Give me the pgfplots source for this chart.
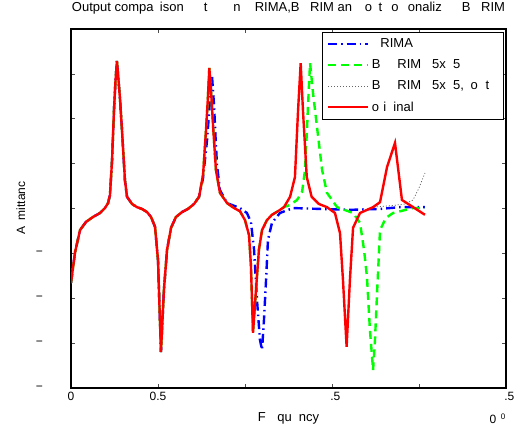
\documentclass[border=0pt]{standalone}
\usepackage{fontspec}
\setmainfont{Liberation Sans}
\usepackage{pgfplots}
\pgfplotsset{compat=1.18}
\newcommand\gap[1]{\phantom{#1}\hspace{2pt}}
\newcommand\twelve{\fontsize{12pt}{14pt}\selectfont}
\newcommand\thirteen{\fontsize{13pt}{15pt}\selectfont}

\begin{document}
\twelve
\begin{tikzpicture}[x=1pt,y=1pt]
\useasboundingbox (0,0) rectangle (517,427);
\begin{axis}[
    at={(71pt,39pt)}, anchor=south west,
    scale only axis, width=435pt, height=359pt,
    xmin=0, xmax=2.5, ymin=-4, ymax=4,
    xtick={0,0.5,1,1.5,2,2.5},
    xticklabels={0,0.5,,\phantom{1}.5,,\phantom{2}.5},
    ytick={-4,-3,-2,-1,0,1,2,3,4},
    yticklabels={−\kern24pt,−\kern24pt,−\kern24pt,−\kern24pt,,,,,},
    tick align=inside, major tick length=4pt,
    tick style={line width=0.6pt, black!70},
    axis line style={line width=1.2pt},
    tick label style={font=\twelve},
    title={Output compa\gap{r}ison \gap{be}t\gap{wee}n \gap{P}RIMA,B\gap{S}RIM an\gap{d} o\gap{r}t\gap{h}o\gap{g}onaliz\gap{ed} B\gap{S}RIM},
    title style={at={(axis description cs:0.5,1.0334)}, anchor=base, inner sep=0pt, font=\thirteen},
    xlabel={F\phantom{re}qu\phantom{e}ncy},
    xlabel style={at={(axis description cs:0.5,-0.092)}, anchor=base, inner sep=0pt, font=\thirteen},
    ylabel={A\phantom{d}mittanc\phantom{e}},
    ylabel style={at={(axis description cs:-0.1057,0.51)}, anchor=base, inner sep=0pt, font=\twelve},
    legend style={at={(0.9954,0.9916)}, anchor=north east, draw=black, line width=0.8pt,
        font=\thirteen, inner xsep=4.5pt, inner ysep=4pt,
        row sep=5pt, nodes={inner sep=2.5pt}},
    legend cell align=left,
    legend image code/.code={\draw[#1] (0pt,0pt) -- (40pt,0pt);},
]
% PRIMA
\addplot[blue, line width=2.4pt, dash pattern=on 9pt off 4pt on 1.5pt off 4pt] table {
x y
0 -1.66
0.023 -0.98
0.052 -0.48
0.086 -0.30
0.126 -0.19
0.167 -0.10
0.195 0.01
0.213 0.12
0.224 0.30
0.236 1.08
0.247 2.19
0.256 2.86
0.264 3.29
0.273 2.86
0.282 2.42
0.293 1.75
0.310 0.63
0.322 0.26
0.351 0.10
0.379 0.03
0.408 -0.01
0.437 -0.08
0.460 -0.19
0.483 -0.41
0.500 -1.15
0.517 -3.20
0.534 -1.82
0.552 -0.92
0.575 -0.43
0.603 -0.19
0.638 -0.08
0.672 -0.01
0.707 0.10
0.736 0.26
0.759 0.68
0.782 1.53
0.799 2.42
0.810 2.97
0.822 2.31
0.830 1.64
0.839 0.97
0.856 0.41
0.897 0.12
0.971 0.01
1.011 -0.10
1.034 -0.30
1.052 -0.92
1.069 -2.04
1.086 -2.93
1.098 -3.15
1.109 -2.48
1.121 -1.59
1.132 -0.70
1.155 -0.32
1.201 -0.10
1.276 0.01
1.431 -0.01
1.603 -0.03
1.776 -0.01
1.891 0.03
2.034 0.03
};
\addlegendentry{\thirteen\phantom{P}RIMA}
% BSRIM 15x15
\addplot[color={rgb,1:red,0;green,1;blue,0}, line width=2.4pt, dash pattern=on 8pt off 5pt] table {
x y
0 -1.66
0.023 -0.98
0.052 -0.48
0.086 -0.30
0.126 -0.19
0.167 -0.10
0.195 0.01
0.213 0.12
0.224 0.30
0.236 1.08
0.247 2.19
0.256 2.86
0.264 3.29
0.273 2.86
0.282 2.42
0.293 1.75
0.310 0.63
0.322 0.26
0.351 0.10
0.379 0.03
0.408 -0.01
0.437 -0.08
0.460 -0.19
0.483 -0.41
0.500 -1.15
0.517 -3.20
0.534 -1.82
0.552 -0.92
0.575 -0.43
0.603 -0.19
0.638 -0.08
0.672 -0.01
0.707 0.10
0.736 0.26
0.759 0.75
0.776 1.75
0.787 2.48
0.795 3.13
0.807 2.48
0.818 1.75
0.833 0.86
0.856 0.35
0.897 0.12
0.937 0.01
0.971 -0.06
1.000 -0.26
1.023 -0.59
1.034 -1.26
1.046 -2.77
1.063 -1.82
1.080 -0.92
1.098 -0.48
1.126 -0.26
1.155 -0.14
1.190 -0.06
1.224 0.03
1.259 0.08
1.299 0.19
1.328 0.37
1.345 0.86
1.356 1.75
1.365 2.53
1.374 3.24
1.391 2.57
1.414 1.81
1.443 0.86
1.471 0.35
1.529 0.03
1.621 -0.10
1.661 -0.32
1.684 -0.92
1.701 -1.53
1.718 -2.71
1.736 -3.60
1.747 -2.93
1.759 -1.88
1.776 -0.48
1.810 -0.21
1.851 -0.10
1.966 0.01
2.034 0.01
};
\addlegendentry{\thirteen B\hspace{17pt}RIM \phantom{1}5x\phantom{1}5}
% BSRIM 15x15, orthogonalized
\addplot[black!60, line width=0.8pt, dash pattern=on 1pt off 2pt] table {
x y
0 -1.66
0.023 -0.98
0.052 -0.48
0.086 -0.30
0.126 -0.19
0.167 -0.10
0.195 0.01
0.213 0.12
0.224 0.30
0.236 1.08
0.247 2.19
0.256 2.86
0.264 3.29
0.273 2.86
0.282 2.42
0.293 1.75
0.310 0.63
0.322 0.26
0.351 0.10
0.379 0.03
0.408 -0.01
0.437 -0.08
0.460 -0.19
0.483 -0.41
0.500 -1.15
0.517 -3.20
0.534 -1.82
0.552 -0.92
0.575 -0.43
0.603 -0.19
0.638 -0.08
0.672 -0.01
0.707 0.10
0.736 0.26
0.759 0.75
0.776 1.75
0.787 2.48
0.795 3.13
0.807 2.48
0.818 1.75
0.833 0.86
0.856 0.35
0.897 0.12
0.937 0.01
0.971 -0.06
1.000 -0.26
1.023 -0.59
1.034 -1.26
1.046 -2.77
1.063 -1.82
1.080 -0.92
1.098 -0.48
1.126 -0.26
1.155 -0.14
1.190 -0.06
1.224 0.03
1.259 0.26
1.287 0.70
1.305 2.19
1.320 3.24
1.333 2.19
1.355 0.70
1.383 0.26
1.425 0.10
1.471 0.03
1.517 -0.10
1.546 -0.55
1.563 -1.59
1.584 -3.08
1.603 -1.59
1.621 -0.43
1.661 -0.10
1.736 0.03
1.833 0.06
1.920 0.10
1.966 0.19
2.000 0.46
2.034 0.79
};
\addlegendentry{\thirteen B\hspace{17pt}RIM \phantom{1}5x\phantom{1}5,\hspace{3pt} o\hspace{8pt}t\phantom{h}}
% original
\addplot[red, line width=2.4pt] table {
x y
0 -1.66
0.023 -0.98
0.052 -0.48
0.086 -0.30
0.126 -0.19
0.167 -0.10
0.195 0.01
0.213 0.12
0.224 0.30
0.236 1.08
0.247 2.19
0.256 2.86
0.264 3.29
0.273 2.86
0.282 2.42
0.293 1.75
0.310 0.63
0.322 0.26
0.351 0.10
0.379 0.03
0.408 -0.01
0.437 -0.08
0.460 -0.19
0.483 -0.41
0.500 -1.15
0.517 -3.20
0.534 -1.82
0.552 -0.92
0.575 -0.43
0.603 -0.19
0.638 -0.08
0.672 -0.01
0.707 0.10
0.736 0.26
0.759 0.75
0.776 1.75
0.787 2.48
0.795 3.13
0.807 2.48
0.818 1.75
0.833 0.86
0.856 0.35
0.897 0.12
0.937 0.01
0.971 -0.06
1.000 -0.26
1.023 -0.59
1.034 -1.26
1.046 -2.77
1.063 -1.82
1.080 -0.92
1.098 -0.48
1.126 -0.26
1.155 -0.14
1.190 -0.06
1.224 0.03
1.259 0.26
1.287 0.70
1.305 2.19
1.320 3.24
1.333 2.19
1.355 0.70
1.383 0.26
1.425 0.10
1.471 0.03
1.517 -0.10
1.546 -0.55
1.563 -1.59
1.584 -3.08
1.603 -1.59
1.621 -0.43
1.661 -0.10
1.736 0.03
1.776 0.14
1.816 0.92
1.862 1.46
1.902 0.19
1.966 0.03
2.034 -0.14
};
\addlegendentry{\thirteen o\phantom{r}i\phantom{g}inal}
\end{axis}
\node[anchor=base east, inner sep=0pt] at (506,3) {\twelve\phantom{1}0\textsuperscript{\phantom{1}0}};
\end{tikzpicture}
\end{document}
